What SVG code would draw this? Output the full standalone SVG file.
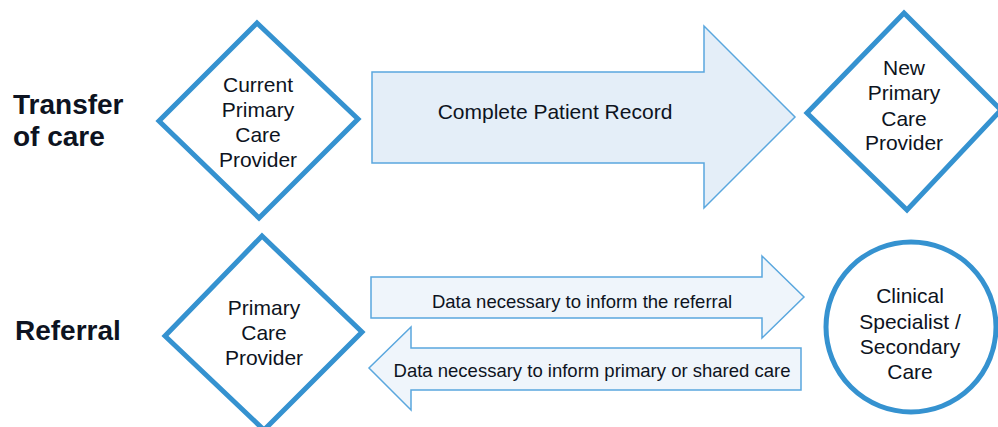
<svg xmlns="http://www.w3.org/2000/svg" width="998" height="427" viewBox="0 0 998 427">
  <style>
    .label { font-family: "Liberation Sans", Arial, sans-serif; fill: #0d1321; }
    .row { font-size: 28px; font-weight: bold; }
    .node-text { font-size: 21px; text-anchor: middle; }
    .flow-text { font-size: 18.5px; text-anchor: middle; }
    .big-text { font-size: 21px; text-anchor: middle; }
    .shape { fill: #ffffff; stroke: #3592d0; stroke-width: 5; stroke-linejoin: miter; }
    .big-arrow { fill: #e4eef8; stroke: #5aa7de; stroke-width: 1.5; }
    .small-arrow { fill: #eff5fb; stroke: #5aa7de; stroke-width: 1.5; }
  </style>

  <!-- Row headings -->
  <g id="row-labels">
    <text class="label row" x="13" y="114">Transfer</text>
    <text class="label row" x="13" y="146">of care</text>
    <text class="label row" x="15" y="340">Referral</text>
  </g>

  <!-- Flows between providers -->
  <g id="connectors">
    <g id="complete-record">
      <polygon class="big-arrow" points="372,72 704,72 704,26 795,117 704,208 704,163 372,163"/>
      <text class="label big-text" x="555" y="119">Complete Patient Record</text>
    </g>
    <g id="referral-data">
      <polygon class="small-arrow" points="371,277 762,277 762,256 804,297 762,338 762,318 371,318"/>
      <text class="label flow-text" x="582" y="308">Data necessary to inform the referral</text>
    </g>
    <g id="return-data">
      <polygon class="small-arrow" points="801,348 411,348 411,327 369,368 411,410 411,390 801,390"/>
      <text class="label flow-text" x="592" y="377">Data necessary to inform primary or shared care</text>
    </g>
  </g>

  <g id="current-provider">
    <polygon class="shape" points="257,23 358,119 259,218 159,121"/>
    <text class="label node-text" x="258" y="92">Current</text>
    <text class="label node-text" x="258" y="117">Primary</text>
    <text class="label node-text" x="258" y="142">Care</text>
    <text class="label node-text" x="258" y="167">Provider</text>
  </g>

  <g id="new-provider">
    <polygon class="shape" points="904,13 1001,110 907,210 807,113"/>
    <text class="label node-text" x="904" y="75">New</text>
    <text class="label node-text" x="904" y="100">Primary</text>
    <text class="label node-text" x="904" y="126">Care</text>
    <text class="label node-text" x="904" y="150">Provider</text>
  </g>

  <g id="primary-provider">
    <polygon class="shape" points="262,236 362,332 264,430 165,336"/>
    <text class="label node-text" x="264" y="315">Primary</text>
    <text class="label node-text" x="264" y="340">Care</text>
    <text class="label node-text" x="264" y="365">Provider</text>
  </g>

  <g id="secondary-care">
    <circle class="shape" cx="911" cy="327" r="85"/>
    <text class="label node-text" x="910" y="303">Clinical</text>
    <text class="label node-text" x="910" y="329">Specialist /</text>
    <text class="label node-text" x="910" y="354">Secondary</text>
    <text class="label node-text" x="910" y="379">Care</text>
  </g>
</svg>
